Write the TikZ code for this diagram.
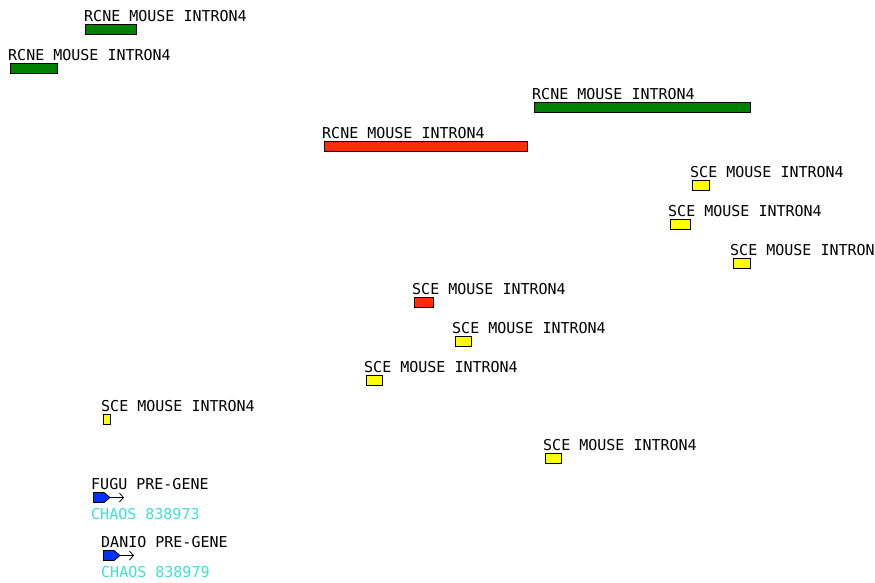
\documentclass[tikz,border=0pt]{standalone}
\usepackage{fontspec}
\newfontfamily\monofont{DejaVu Sans Mono}
\usetikzlibrary{arrows.meta}
\definecolor{hitgreen}{RGB}{0,128,0}
\definecolor{hitred}{RGB}{255,45,0}
\definecolor{hityellow}{RGB}{255,255,0}
\definecolor{genblue}{RGB}{0,50,255}
\definecolor{chaoscyan}{RGB}{64,224,208}
\begin{document}
\begin{tikzpicture}[
		x=1pt, y=-1pt,
		lbl/.style={anchor=base west, inner sep=0pt, font=\monofont\fontsize{15}{15}\selectfont},
		hit/.style={draw=black, line width=1pt},
		gene/.style={draw=black, fill=genblue, line width=0.8pt}
	]
	\useasboundingbox (0,0) rectangle (875,583);
	\clip (0,0) rectangle (875,583);
	% RCNE hits
	\node[lbl] (rcne1) at (84,21.5) {RCNE MOUSE INTRON4};
	\draw[hit, fill=hitgreen] (85.5,24.5) rectangle (136.5,34.5);
	\node[lbl] (rcne2) at (8,60.5) {RCNE MOUSE INTRON4};
	\draw[hit, fill=hitgreen] (10.5,63.5) rectangle (57.5,73.5);
	\node[lbl] (rcne3) at (532,99.5) {RCNE MOUSE INTRON4};
	\draw[hit, fill=hitgreen] (534.5,102.5) rectangle (750.5,112.5);
	\node[lbl] (rcne4) at (322,138.5) {RCNE MOUSE INTRON4};
	\draw[hit, fill=hitred] (324.5,141.5) rectangle (527.5,151.5);
	% SCE hits
	\node[lbl] (sce1) at (690,177.5) {SCE MOUSE INTRON4};
	\draw[hit, fill=hityellow] (692.5,180.5) rectangle (709.5,190.5);
	\node[lbl] (sce2) at (668,216.5) {SCE MOUSE INTRON4};
	\draw[hit, fill=hityellow] (670.5,219.5) rectangle (690.5,229.5);
	\node[lbl] (sce3) at (730,255.5) {SCE MOUSE INTRON4};
	\draw[hit, fill=hityellow] (733.5,258.5) rectangle (750.5,268.5);
	\node[lbl] (sce4) at (412,294.5) {SCE MOUSE INTRON4};
	\draw[hit, fill=hitred] (414.5,297.5) rectangle (433.5,307.5);
	\node[lbl] (sce5) at (452,333.5) {SCE MOUSE INTRON4};
	\draw[hit, fill=hityellow] (455.5,336.5) rectangle (471.5,346.5);
	\node[lbl] (sce6) at (364,372.5) {SCE MOUSE INTRON4};
	\draw[hit, fill=hityellow] (366.5,375.5) rectangle (382.5,385.5);
	\node[lbl] (sce7) at (101,411.5) {SCE MOUSE INTRON4};
	\draw[hit, fill=hityellow] (103.5,414.5) rectangle (110.5,424.5);
	\node[lbl] (sce8) at (543,450.5) {SCE MOUSE INTRON4};
	\draw[hit, fill=hityellow] (545.5,453.5) rectangle (561.5,463.5);
	% pre-genes
	\node[lbl] (fugu) at (91,489.5) {FUGU PRE-GENE};
	\draw[gene] (93.5,492.5) -- (104,492.5) -- (110,497.5) -- (104,502.5) -- (93.5,502.5) -- cycle;
	\coordinate (fuguend) at (124,497.5);
	\draw[-{Straight Barb[length=4pt,width=9pt]}, line width=0.8pt] (110,497.5) -- (fuguend);
	\node[lbl, text=chaoscyan] (chaos1) at (91,519.5) {CHAOS 838973};
	\node[lbl] (danio) at (101,547.5) {DANIO PRE-GENE};
	\draw[gene] (103.5,550.5) -- (114,550.5) -- (120,555.5) -- (114,560.5) -- (103.5,560.5) -- cycle;
	\coordinate (danioend) at (134,555.5);
	\draw[-{Straight Barb[length=4pt,width=9pt]}, line width=0.8pt] (120,555.5) -- (danioend);
	\node[lbl, text=chaoscyan] (chaos2) at (101,577.5) {CHAOS 838979};
\end{tikzpicture}
\end{document}
